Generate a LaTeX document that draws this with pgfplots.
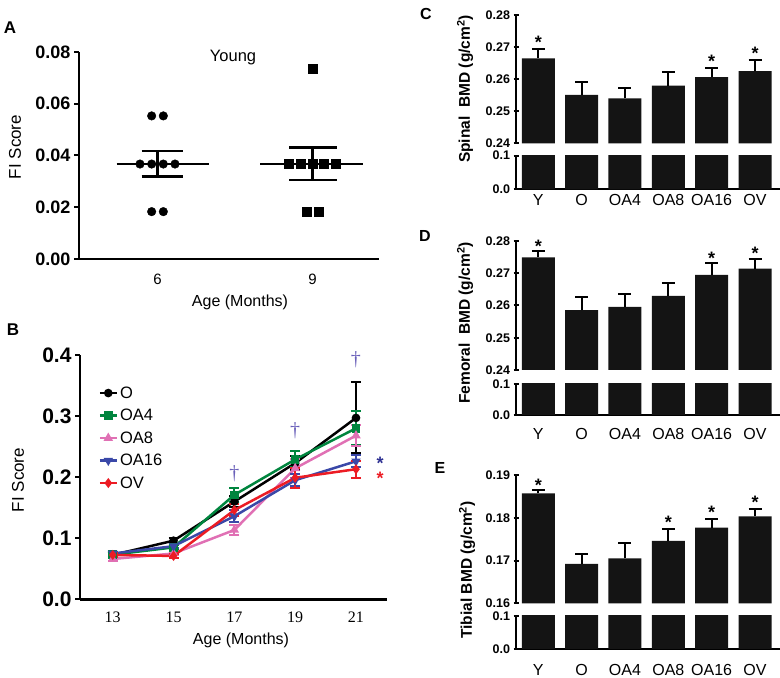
\documentclass[border=0pt]{standalone}
\usepackage{pgfplots}
\pgfplotsset{compat=1.18}
\usepackage{fontspec}
\setmainfont{Liberation Sans}
\newfontfamily\serifnum{Liberation Serif}
\definecolor{cOAf}{RGB}{0,133,62}
\definecolor{cOAe}{RGB}{224,112,180}
\definecolor{cOAs}{RGB}{58,72,168}
\definecolor{cOV}{RGB}{236,28,36}
\definecolor{dag}{RGB}{105,95,185}
\definecolor{bstar}{RGB}{46,49,146}
\newcommand{\fs}[1]{\fontsize{#1bp}{#1bp}\selectfont}
\tikzset{sstar/.style={font=\fs{18}\bfseries, yshift=-4bp}}
\pgfplotsset{
  prism/.style={scale only axis, anchor=south west, axis lines=left,
    axis line style={line width=2.5bp,-}, tick align=outside, major tick length=5bp,
    tick style={black, line width=2bp}, scaled ticks=false,
    /pgf/number format/assume math mode=true, clip=false},
  barax/.style={scale only axis, anchor=south west, width=264bp, xmin=-0.514, xmax=5.577,
    tick align=outside, major tick length=5bp,
    tick style={black, line width=2bp}, scaled ticks=false,
    /pgf/number format/assume math mode=true, clip mode=individual,
    ybar, bar width=33bp,
    yticklabel style={font=\fs{12.5}\bfseries, /pgf/number format/fixed, /pgf/number format/fixed zerofill, /pgf/number format/precision=2}},
  upper/.style={barax, axis x line=none, axis y line=left, xtick=\empty,
    axis line style={line width=2bp,-}, y axis line style={-}},
  lower/.style={barax, axis x line=bottom, axis y line=left, ymin=0, ymax=0.1, ytick={0,0.1},
    axis line style={line width=2bp,-}, y axis line style={-}, x axis line style={-},
    yticklabel style={/pgf/number format/precision=1},
    xtick={0,1,2,3,4,5}, xticklabels={Y,O,OA4,OA8,OA16,OV}, xtick style={draw=none},
    xticklabel style={font=\fs{16}}},
  bars/.style={fill=black!92, draw=none},
  ebars/.style={fill=black!92, draw=none, /pgfplots/error bars/y dir=plus, /pgfplots/error bars/y explicit,
    /pgfplots/error bars/error bar style={line width=2bp, draw=black},
    /pgfplots/error bars/error mark options={rotate=90, line width=2bp, mark size=6.5bp, draw=black}},
}
\begin{document}
\begin{tikzpicture}
\useasboundingbox (0,0) rectangle (780bp,678bp);
% ---------------- Panel A
\begin{axis}[prism, at={(79bp,419bp)}, width=300bp, height=207bp,
  xmin=4.481, xmax=10.287, ymin=0, ymax=0.08,
  xtick={6,9}, xtick style={draw=none}, ytick={0,0.02,0.04,0.06,0.08},
  yticklabel style={font=\fs{18}\bfseries, /pgf/number format/fixed, /pgf/number format/fixed zerofill, /pgf/number format/precision=2},
  xticklabel style={font=\fs{15}, yshift=-7bp}]
\addplot[only marks, mark=*, mark size=4.3bp, black] coordinates {(5.887,0.0553)(6.113,0.0553)(5.661,0.0367)(5.887,0.0367)(6.113,0.0367)(6.339,0.0367)(5.887,0.0183)(6.113,0.0183)};
\addplot[only marks, mark=square*, mark size=4.5bp, black] coordinates {(9,0.0737)(8.548,0.0367)(8.774,0.0367)(9,0.0367)(9.226,0.0367)(9.452,0.0367)(8.887,0.0183)(9.113,0.0183)};
\addplot[black, line width=2.5bp] coordinates {(5.21,0.0367)(6.997,0.0367)};
\addplot[black, line width=2.5bp] coordinates {(5.694,0.0417)(6.488,0.0417)};
\addplot[black, line width=2.5bp] coordinates {(5.694,0.0318)(6.488,0.0318)};
\addplot[black, line width=2.5bp] coordinates {(6,0.0318)(6,0.0417)};
\addplot[black, line width=2.5bp] coordinates {(7.984,0.0367)(9.983,0.0367)};
\addplot[black, line width=2.5bp] coordinates {(8.551,0.0430)(9.48,0.0430)};
\addplot[black, line width=2.5bp] coordinates {(8.551,0.0305)(9.48,0.0305)};
\addplot[black, line width=2.5bp] coordinates {(9,0.0305)(9,0.0430)};
\end{axis}
\node[font=\fs{16.5}] at (233bp,620bp) {Young};
\node[rotate=90, font=\fs{17}] at (15bp,531bp) {FI Score};
\node[font=\fs{16}] at (240bp,376bp) {Age (Months)};
\node[font=\fs{17}\bfseries] at (10bp,650bp) {A};
% ---------------- Panel B
\begin{axis}[prism, at={(80bp,78.7bp)}, width=307bp, height=244.3bp,
  xmin=11.924, xmax=22.02, ymin=0, ymax=0.4, xtick={13,15,17,19,21}, xtick style={draw=none},
  ytick={0,0.1,0.2,0.3,0.4},
  yticklabel style={font=\fs{21}\bfseries, /pgf/number format/fixed, /pgf/number format/fixed zerofill, /pgf/number format/precision=1},
  xticklabel style={font=\fs{16}\serifnum, yshift=-4bp},
  legend style={draw=none, fill=none, font=\fs{16.5}, at={(0.05,0.888)}, anchor=north west, row sep=5.5bp},
  legend cell align=left,
  every axis plot/.append style={line width=2.5bp, mark size=3bp,
     /pgfplots/error bars/y dir=both, /pgfplots/error bars/y explicit,
     /pgfplots/error bars/error bar style={line width=2bp},
     /pgfplots/error bars/error mark options={rotate=90, line width=2bp, mark size=5bp}}]
\addplot[black, mark=*] coordinates {(13,0.0726)+-(0,0.004) (15,0.096)+-(0,0.005) (17,0.16)+-(0,0.009) (19,0.223)+-(0,0.012) (21,0.297)+-(0,0.058)};
\addplot[cOAf, mark=square*] coordinates {(13,0.073)+-(0,0.004) (15,0.085)+-(0,0.004) (17,0.171)+-(0,0.011) (19,0.229)+-(0,0.013) (21,0.28)+-(0,0.028)};
\addplot[cOAe, mark=triangle*] coordinates {(13,0.066)+-(0,0.004) (15,0.075)+-(0,0.003) (17,0.1135)+-(0,0.008) (19,0.2145)+-(0,0.016) (21,0.268)+-(0,0.017)};
\addplot[cOAs, mark=triangle*, mark options={rotate=180}] coordinates {(13,0.075)+-(0,0.003) (15,0.087)+-(0,0.003) (17,0.136)+-(0,0.01) (19,0.195)+-(0,0.01) (21,0.226)+-(0,0.01)};
\addplot[cOV, mark=diamond*] coordinates {(13,0.0726)+-(0,0.003) (15,0.071)+-(0,0.003) (17,0.146)+-(0,0.01) (19,0.199)+-(0,0.016) (21,0.213)+-(0,0.014)};
\legend{O,OA4,OA8,OA16,OV}
\node[text=dag, font=\fs{20}\serifnum] at (axis cs:17,0.206) {†};
\node[text=dag, font=\fs{20}\serifnum] at (axis cs:19,0.276) {†};
\node[text=dag, font=\fs{20}\serifnum] at (axis cs:21,0.392) {†};
\node[text=bstar, font=\fs{18}\bfseries, yshift=-3bp] at (axis cs:21.79,0.228) {*};
\node[text=cOV, font=\fs{18}\bfseries, yshift=-3bp] at (axis cs:21.79,0.203) {*};
\end{axis}
\node[rotate=90, font=\fs{17}] at (18bp,198bp) {FI Score};
\node[font=\fs{16}] at (241bp,38bp) {Age (Months)};
\node[font=\fs{17}\bfseries] at (13bp,348.5bp) {B};
% ---------------- Panel C
\begin{axis}[upper, at={(516bp,534.7bp)}, height=128.3bp, ymin=0.24, ymax=0.28, ytick={0.24,0.25,0.26,0.27,0.28}]
\addplot[ebars] coordinates {(0,0.2665)+-(0,0.0028) (1,0.2551)+-(0,0.0041) (2,0.2540)+-(0,0.0031) (3,0.2580)+-(0,0.0041) (4,0.2606)+-(0,0.0030) (5,0.2625)+-(0,0.0035)};
\node[sstar] at (axis cs:0,0.2728) {*};
\node[sstar] at (axis cs:4,0.2667) {*};
\node[sstar] at (axis cs:5,0.2693) {*};
\end{axis}
\begin{axis}[lower, at={(516bp,488.7bp)}, height=33.6bp, xticklabel style={yshift=1bp}]
\addplot[bars] coordinates {(0,0.2665) (1,0.2551) (2,0.2540) (3,0.2580) (4,0.2606) (5,0.2625)};
\end{axis}
\node[rotate=90, font=\fs{15.5}\bfseries] at (465bp,589bp) {Spinal\ \ BMD (g/cm\textsuperscript{2})};
\node[font=\fs{16}\bfseries] at (426bp,664bp) {C};
% ---------------- Panel D
\begin{axis}[upper, at={(516bp,308bp)}, height=129bp, ymin=0.24, ymax=0.28, ytick={0.24,0.25,0.26,0.27,0.28}]
\addplot[ebars] coordinates {(0,0.2749)+-(0,0.0020) (1,0.2586)+-(0,0.0039) (2,0.2596)+-(0,0.0039) (3,0.2630)+-(0,0.0039) (4,0.2695)+-(0,0.0038) (5,0.2714)+-(0,0.0031)};
\node[sstar] at (axis cs:0,0.2797) {*};
\node[sstar] at (axis cs:4,0.2759) {*};
\node[sstar] at (axis cs:5,0.2773) {*};
\end{axis}
\begin{axis}[lower, at={(516bp,263bp)}, height=31bp, xticklabel style={yshift=-7bp}]
\addplot[bars] coordinates {(0,0.2749) (1,0.2586) (2,0.2596) (3,0.2630) (4,0.2695) (5,0.2714)};
\end{axis}
\node[rotate=90, font=\fs{15.5}\bfseries] at (465bp,355bp) {Femoral\ \ BMD (g/cm\textsuperscript{2})};
\node[font=\fs{16}\bfseries] at (425bp,442bp) {D};
% ---------------- Panel E
\begin{axis}[upper, at={(516bp,74.7bp)}, height=128.3bp, ymin=0.16, ymax=0.19, ytick={0.16,0.17,0.18,0.19}]
\addplot[ebars] coordinates {(0,0.1857)+-(0,0.0008) (1,0.1692)+-(0,0.0023) (2,0.1705)+-(0,0.0035) (3,0.1746)+-(0,0.0028) (4,0.1777)+-(0,0.0019) (5,0.1803)+-(0,0.0018)};
\node[sstar] at (axis cs:0,0.1886) {*};
\node[sstar] at (axis cs:3,0.1799) {*};
\node[sstar] at (axis cs:4,0.1822) {*};
\node[sstar] at (axis cs:5,0.1845) {*};
\end{axis}
\begin{axis}[lower, at={(516bp,29bp)}, height=33.3bp, xticklabel style={yshift=-9bp}]
\addplot[bars] coordinates {(0,0.1857) (1,0.1692) (2,0.1705) (3,0.1746) (4,0.1777) (5,0.1803)};
\end{axis}
\node[rotate=90, font=\fs{15.5}\bfseries] at (467bp,108bp) {Tibial BMD (g/cm\textsuperscript{2})};
\node[font=\fs{16}\bfseries] at (440bp,210.5bp) {E};
\end{tikzpicture}
\end{document}
